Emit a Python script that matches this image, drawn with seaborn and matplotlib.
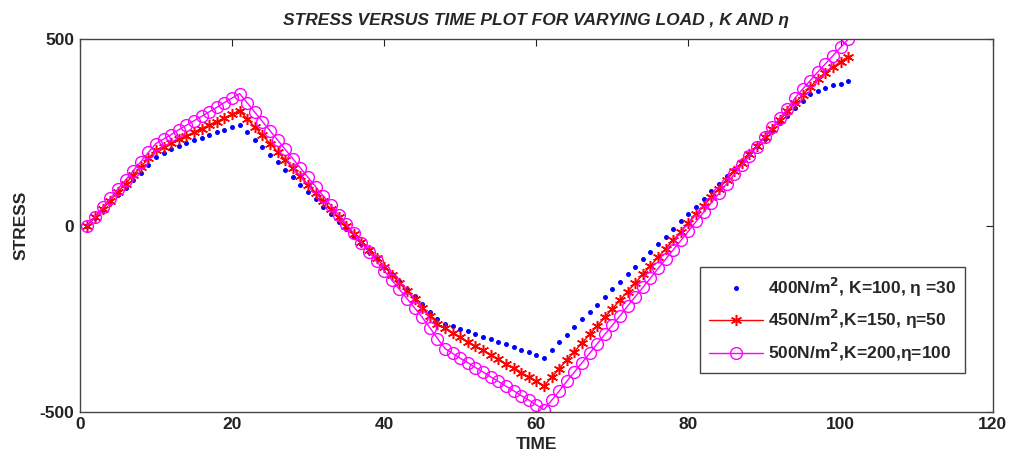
import numpy as np
import pandas as pd
import matplotlib
matplotlib.use("Agg")
import matplotlib.pyplot as plt
import seaborn as sns

# Time steps 1..101
time = np.arange(1, 102)

stress_400 = [
    0, 20, 41, 61, 81, 102, 122, 142, 163, 183,
    195, 205, 214, 222, 229, 236, 243, 250, 257, 264, 271,
    251, 230, 210, 190, 170, 150, 130, 110, 90, 70, 50, 30, 10, -10, -30,
    -50, -70, -90, -110, -130, -150, -170, -190, -210, -231, -252,
    -263, -270, -277, -284, -291, -298, -305, -312, -319, -326, -333, -340, -347, -354,
    -333, -313, -293, -272, -252, -232, -212, -192, -171, -151, -131, -111, -90, -70, -50,
    -30, -10, 11, 31, 51, 71, 92, 112, 132, 152, 173, 193, 213, 233, 254,
    274, 294, 314, 334, 352,
    361, 370, 376, 381, 388,
]

stress_450 = [
    0, 22, 45, 67, 90, 112, 135, 157, 180, 202,
    212, 222, 231, 241, 250, 260, 270, 279, 289, 298, 308,
    286, 264, 242, 220, 198, 176, 154, 132, 110, 88, 66, 44, 22, 0, -22,
    -44, -66, -88, -110, -132, -154, -176, -198, -220, -242, -264,
    -276, -288, -300, -312, -323, -335, -347, -359, -371, -383, -395, -407, -418, -430,
    -407, -384, -361, -338, -315, -292, -269, -246, -223, -200, -177, -154, -131, -108, -85,
    -62, -39, -16, 7, 30, 53, 76, 99, 122, 145, 168, 191, 214, 237, 260,
    283, 306, 329, 350,
    372, 392, 410, 425, 440, 453,
]

stress_500 = [
    0, 24, 49, 73, 98, 122, 147, 171, 196, 220,
    232, 244, 257, 269, 281, 293, 305, 317, 330, 342, 354,
    329, 304, 279, 254, 229, 204, 179, 154, 129, 104, 79, 54, 29, 4, -21,
    -46, -71, -96, -121, -146, -171, -196, -221, -246, -274, -303,
    -330, -343, -356, -368, -381, -393, -406, -418, -431, -443, -456, -468, -481, -494,
    -469, -444, -418, -393, -368, -343, -317, -292, -267, -242, -216, -191, -166, -141, -115,
    -90, -65, -40, -15, 11, 36, 61, 86, 112, 137, 162, 187, 212, 238, 263,
    288, 313,
    342, 366, 389, 412, 434, 456, 478, 500,
]

labels = [
    r"400N/m$^\mathbf{2}$, K=100, η =30",
    r"450N/m$^\mathbf{2}$,K=150, η=50",
    r"500N/m$^\mathbf{2}$,K=200,η=100",
]

x_ticks = [0, 20, 40, 60, 80, 100, 120]
y_ticks = [-500, 0, 500]

sns.set_theme(style="white")
plt.rcParams["font.family"] = ["Liberation Sans", "DejaVu Sans"]
plt.rcParams["font.weight"] = "bold"
plt.rcParams["mathtext.default"] = "bf"
plt.rcParams["axes.unicode_minus"] = False

FS = 12.5

fig = plt.figure(figsize=(10.11, 4.66), dpi=100)
ax = fig.add_axes([0.079, 0.116, 0.903, 0.800])

df = pd.DataFrame({"time": time, "s400": stress_400, "s450": stress_450, "s500": stress_500})

sns.lineplot(data=df, x="time", y="s400", ax=ax, color="#0000ff", linestyle="none",
             marker="o", markersize=3.6, markeredgewidth=0, markeredgecolor="#0000ff",
             label=labels[0])
# six-armed asterisk marker for the 450 N/m^2 series
sns.lineplot(data=df, x="time", y="s450", ax=ax, color="#ff0000", linewidth=1.0,
             marker=(6, 2, 0), markersize=8, markeredgewidth=1.1, markeredgecolor="#ff0000",
             label=labels[1])
sns.lineplot(data=df, x="time", y="s500", ax=ax, color="#ff00ff", linewidth=1.0,
             marker="o", markersize=8.5, markerfacecolor="none", markeredgewidth=1.0,
             markeredgecolor="#ff00ff", label=labels[2])

ax.set_xlim(0, 120)
ax.set_ylim(-500, 500)
ax.set_xticks(x_ticks)
ax.set_yticks(y_ticks)
ax.tick_params(direction="in", length=5, width=0.8, top=True, right=True,
               labelsize=FS, colors="#222222", pad=4)
for lbl in ax.get_xticklabels() + ax.get_yticklabels():
    lbl.set_fontweight("bold")
for sp in ax.spines.values():
    sp.set_color("#444444")
    sp.set_linewidth(1.0)

ax.set_xlabel("TIME", fontsize=FS, fontweight="bold", labelpad=3)
ax.set_ylabel("STRESS", fontsize=FS, fontweight="bold", labelpad=8)
ax.set_title("STRESS VERSUS TIME PLOT FOR VARYING LOAD , K AND η",
             fontsize=FS, fontweight="bold", fontstyle="italic", pad=10)

leg = ax.legend(loc="lower right", bbox_to_anchor=(0.969, 0.105), fontsize=FS,
                handlelength=3.1, handletextpad=0.3, labelspacing=0.55,
                borderpad=0.5, borderaxespad=0, fancybox=False, framealpha=1,
                edgecolor="#444444")
leg.get_frame().set_linewidth(1.0)
for t in leg.get_texts():
    t.set_fontweight("bold")

fig.savefig("out.png", dpi=100, facecolor="white")
